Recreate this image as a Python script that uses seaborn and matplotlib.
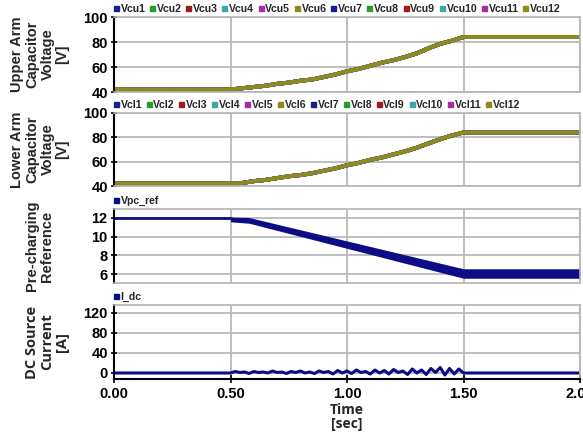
import numpy as np
import pandas as pd
import matplotlib
matplotlib.use('Agg')
import matplotlib.pyplot as plt
from matplotlib.lines import Line2D
import seaborn as sns

# ---- data ----
cell_colors = ['#1c1c8c', '#2c9a2c', '#9a1c1c', '#3aa8a8', '#a030a0', '#8c8c1e']
upper_names = ['Vcu%d' % i for i in range(1, 13)]
lower_names = ['Vcl%d' % i for i in range(1, 13)]

t_cap = [0.0, 0.50, 0.55, 0.60, 0.65, 0.70, 0.75, 0.80, 0.85, 0.90, 0.95, 1.00,
         1.05, 1.10, 1.15, 1.20, 1.25, 1.30, 1.35, 1.40, 1.45, 1.50, 2.00]
v_upper = [42, 42, 43, 44, 45, 46.5, 47.5, 49, 50, 52, 54, 56.5,
           58.5, 61, 63.5, 65.5, 68, 71, 75, 78.5, 81, 84, 84]
v_lower = [42, 42, 42.5, 44, 45, 46.5, 48, 49, 50.5, 52.5, 54.5, 57,
           59, 61.5, 63.5, 66, 68.5, 71.5, 75, 78.5, 81.5, 84, 84]

t_ref = [0.0, 0.5]
v_ref = [12, 12]
t_band = [0.5, 0.58, 1.5, 2.0]
band_hi = [12.05, 12.0, 6.6, 6.6]
band_lo = [11.55, 11.4, 5.6, 5.6]

t_idc = [0.0, 0.50, 0.52, 0.54, 0.56, 0.58, 0.60, 0.62, 0.64, 0.66, 0.68, 0.70,
         0.72, 0.74, 0.76, 0.78, 0.80, 0.82, 0.84, 0.86, 0.88, 0.90, 0.92,
         0.94, 0.96, 0.98, 1.00, 1.02, 1.04, 1.06, 1.08, 1.10, 1.12, 1.14,
         1.16, 1.18, 1.20, 1.22, 1.24, 1.26, 1.28, 1.30, 1.32, 1.34, 1.36,
         1.38, 1.40, 1.42, 1.44, 1.46, 1.48, 1.50, 2.00]
i_dc = [0, 0, 3, 1, 2, -1, 3, 1, 2, 0, 4, 1, 2, -1, 3, 1, 4, 0, 2, -1,
        4, 1, 3, -2, 5, 0, 4, -1, 6, 1, 3, -2, 6, 0, 5, -2, 7, 1, 4, -3,
        8, 0, 6, -3, 9, 1, 11, -4, 9, -2, 8, 0, 0]

sns.set_theme(style='white')
plt.rcParams['font.family'] = ['Liberation Sans', 'DejaVu Sans']
plt.rcParams['font.weight'] = 'bold'

fig = plt.figure(figsize=(5.83, 4.36), dpi=100)
left, width = 114 / 583, 466 / 583
rows = [(17, 92), (113, 186), (209, 283), (305, 379)]
axes = []
for top, bot in rows:
    axes.append(fig.add_axes([left, 1 - bot / 436, width, (bot - top) / 436]))
ax1, ax2, ax3, ax4 = axes

grid_c = '#b4b4b4'


def style_axis(ax, ylim, yticks):
    ax.set_xlim(0, 2)
    ax.set_ylim(*ylim)
    ax.set_yticks(yticks)
    ax.set_xticks([0, 0.5, 1.0, 1.5, 2.0])
    ax.grid(True, color=grid_c, linewidth=1.2)
    for s in ['top', 'right', 'bottom']:
        ax.spines[s].set_color(grid_c)
        ax.spines[s].set_linewidth(1.2)
    ax.spines['left'].set_color('black')
    ax.spines['left'].set_linewidth(1.5)
    ax.tick_params(axis='y', direction='inout', length=5, width=1.2,
                   left=True, labelsize=10.5, pad=2, colors='black')
    ax.tick_params(axis='x', bottom=False, labelbottom=False)
    ax.set_xlabel('')


def square_legend(ax, names, colors):
    handles = [Line2D([], [], marker='s', linestyle='none', markersize=3.6,
                      color=colors[i % len(colors)]) for i in range(len(names))]
    ax.legend(handles, names, ncol=len(names), loc='lower left',
              bbox_to_anchor=(-0.012, 0.97), frameon=False, handlelength=0.4,
              handletextpad=0.25, columnspacing=0.42, borderaxespad=0.1,
              prop={'size': 7.6, 'weight': 'bold'})


def side_label(ax, text, xpos, fam=None):
    kw = {}
    if fam:
        kw['family'] = fam
    ax.set_ylabel(text, fontsize=10.5, fontweight='bold', linespacing=1.1, **kw)
    ax.yaxis.label.set_va('center')
    ax.yaxis.set_label_coords(xpos, 0.5)


palette = [cell_colors[i % 6] for i in range(12)]

df_up = pd.DataFrame([(t, v, n) for n in upper_names for t, v in zip(t_cap, v_upper)],
                     columns=['t', 'v', 'cell'])
sns.lineplot(data=df_up, x='t', y='v', hue='cell', palette=palette, ax=ax1,
             linewidth=2.8, legend=False)
style_axis(ax1, (40, 100), [40, 60, 80, 100])
square_legend(ax1, upper_names, cell_colors)
side_label(ax1, 'Upper Arm\nCapacitor\nVoltage\n[V]', -0.159)

df_lo = pd.DataFrame([(t, v, n) for n in lower_names for t, v in zip(t_cap, v_lower)],
                     columns=['t', 'v', 'cell'])
sns.lineplot(data=df_lo, x='t', y='v', hue='cell', palette=palette, ax=ax2,
             linewidth=2.8, legend=False)
style_axis(ax2, (40, 100), [40, 60, 80, 100])
square_legend(ax2, lower_names, cell_colors)
side_label(ax2, 'Lower Arm\nCapacitor\nVoltage\n[V]', -0.159)

navy = '#0c0c86'
sns.lineplot(x=t_ref, y=v_ref, ax=ax3, color=navy, linewidth=2)
ax3.fill_between(t_band, band_lo, band_hi, color=navy, linewidth=0)
style_axis(ax3, (5.1, 12.9), [6, 8, 10, 12])
square_legend(ax3, ['Vpc_ref'], [navy])
side_label(ax3, 'Pre-charging\nReference', -0.159)

sns.lineplot(x=t_idc, y=i_dc, ax=ax4, color=navy, linewidth=2.2)
style_axis(ax4, (-12, 136), [0, 40, 80, 120])
square_legend(ax4, ['I_dc'], [navy])
side_label(ax4, 'DC Source\nCurrent\n[A]', -0.144, ['Open Sans', 'DejaVu Sans'])
ax4.spines['bottom'].set_color('black')
ax4.spines['bottom'].set_linewidth(1.5)
ax4.tick_params(axis='x', bottom=True, labelbottom=True, direction='inout',
                length=6, width=1.2, labelsize=10.5, pad=3, colors='black')
ax4.set_xticklabels(['0.00', '0.50', '1.00', '1.50', '2.00'])
ax4.set_xlabel('Time\n[sec]', fontsize=10, fontweight='bold',
               family=['Open Sans', 'DejaVu Sans'], linespacing=1.0, labelpad=1)

fig.savefig('out.png', dpi=100)
